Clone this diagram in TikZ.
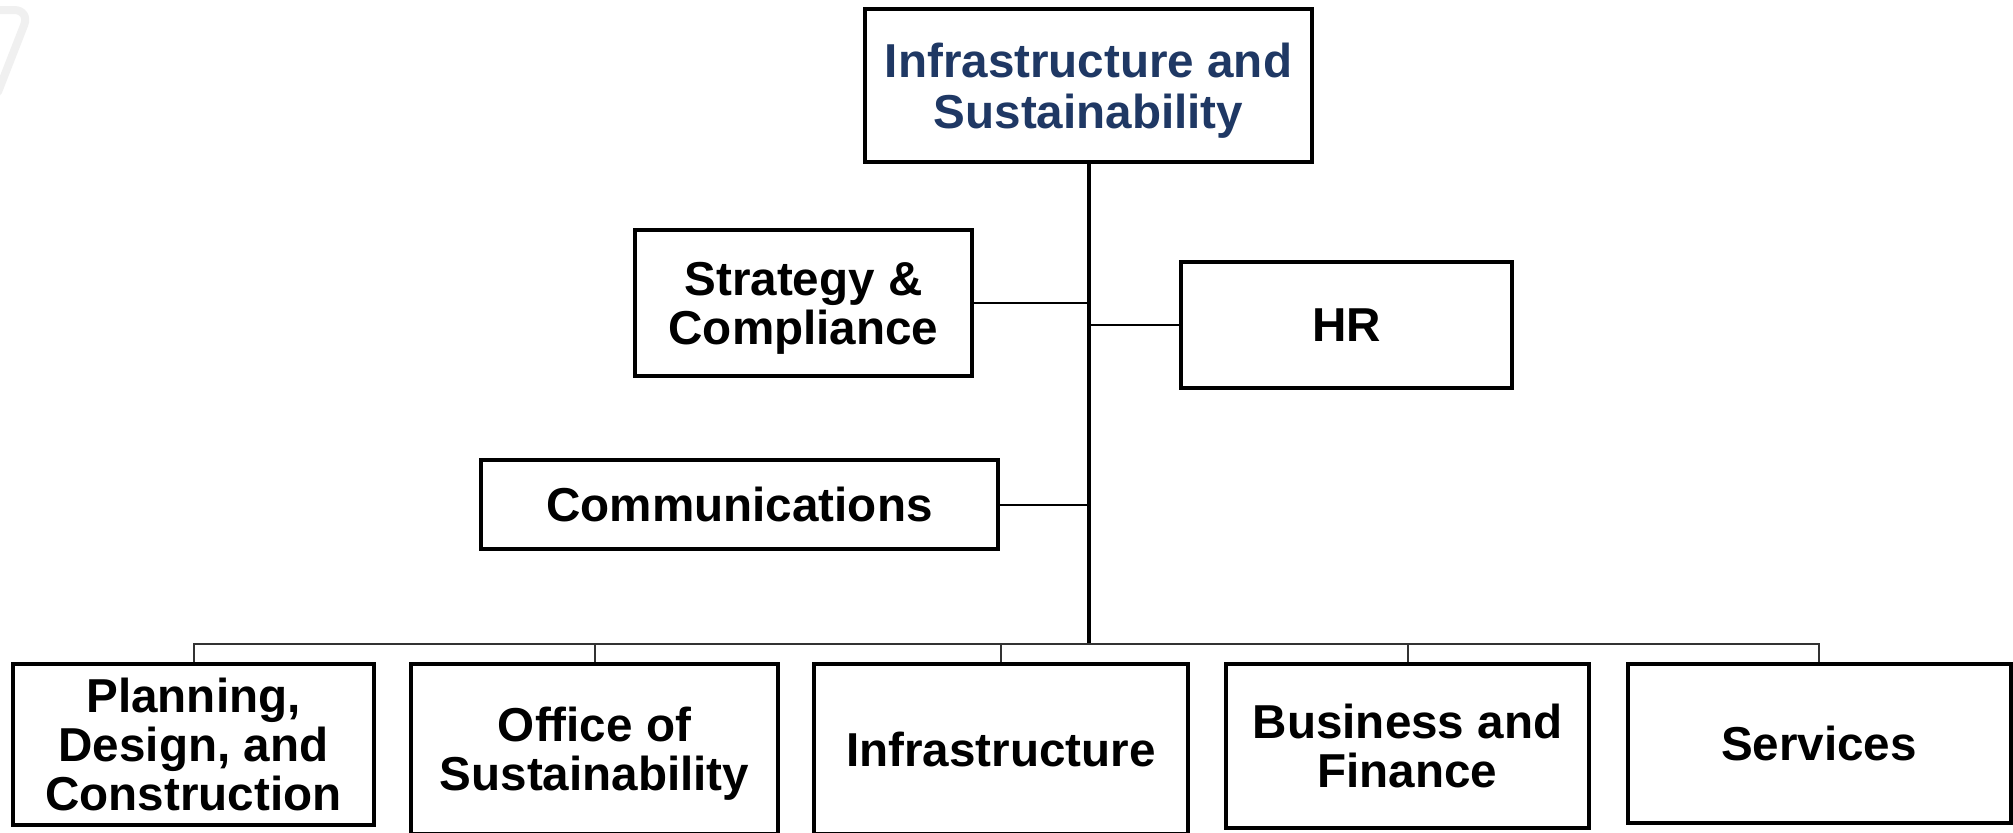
\documentclass[tikz,border=0pt]{standalone}
\usepackage{fontspec}
\setmainfont{Liberation Sans}
\definecolor{navy}{HTML}{1F3864}
\definecolor{busgray}{HTML}{333333}
\newcommand{\upstrut}[1]{\rule{0pt}{#1}}
\begin{document}
\begin{tikzpicture}[x=0.5pt,y=-0.5pt,
  box/.style={draw=black, line width=2pt, fill=white, inner sep=0pt, align=center,
    font=\fontsize{23.8}{24.5}\selectfont\bfseries},
  conn/.style={draw=black, line width=1pt},
  bus/.style={draw=busgray, line width=1pt}]
\useasboundingbox (0,0) rectangle (2013,832);
\fill[white] (0,0) rectangle (2013,832);
% faint artefact at top left
\draw[black!6, line width=4pt, line cap=round, rounded corners=8pt] (-10,10) -- (30,10) -- (-2,92);
\begin{scope}
\clip (0,0) rectangle (2013,832);
\node[box, text=navy, minimum width=223.5pt, minimum height=76.5pt,
  font=\fontsize{23.8}{25.5}\selectfont\bfseries] (top) at (1088.5,85.5) {\upstrut{22.4pt}Infrastructure and\\Sustainability};
\node[box, minimum width=168.5pt, minimum height=73pt] (strat) at (803.5,303) {\upstrut{22pt}Strategy \&\\Compliance};
\node[box, minimum width=165.5pt, minimum height=63pt] (hr) at (1346.5,325) {HR};
\node[box, minimum width=258.5pt, minimum height=44.5pt] (comm) at (739.5,504.5) {Communications};
\node[box, minimum width=180.5pt, minimum height=80.5pt] (plan) at (193.5,744.5) {Planning,\\Design, and\\Construction};
\node[box, minimum width=183.5pt, minimum height=85pt] (office) at (594.5,749) {\upstrut{22.4pt}Office of\\Sustainability};
\node[box, minimum width=187pt, minimum height=85pt] (infra) at (1001,749) {Infrastructure};
\node[box, minimum width=181.5pt, minimum height=82pt] (busfin) at (1407.5,746) {Business and\\Finance};
\node[box, minimum width=191.5pt, minimum height=79.5pt] (serv) at (1819,743) {Services};
\end{scope}
\coordinate (j) at (1089,644);
\draw[draw=black, line width=1.6pt] (top.south -| j) -- (j);
\draw[conn] (strat.east) -- (strat.east -| j);
\draw[conn] (hr.west) -- (hr.west -| j);
\draw[conn] (comm.east) -- (comm.east -| j);
\draw[bus] (j) -| (plan.north);
\draw[bus] (j) -| (office.north);
\draw[bus] (j) -| (infra.north);
\draw[bus] (j) -| (busfin.north);
\draw[bus] (j) -| (serv.north);
\end{tikzpicture}
\end{document}
